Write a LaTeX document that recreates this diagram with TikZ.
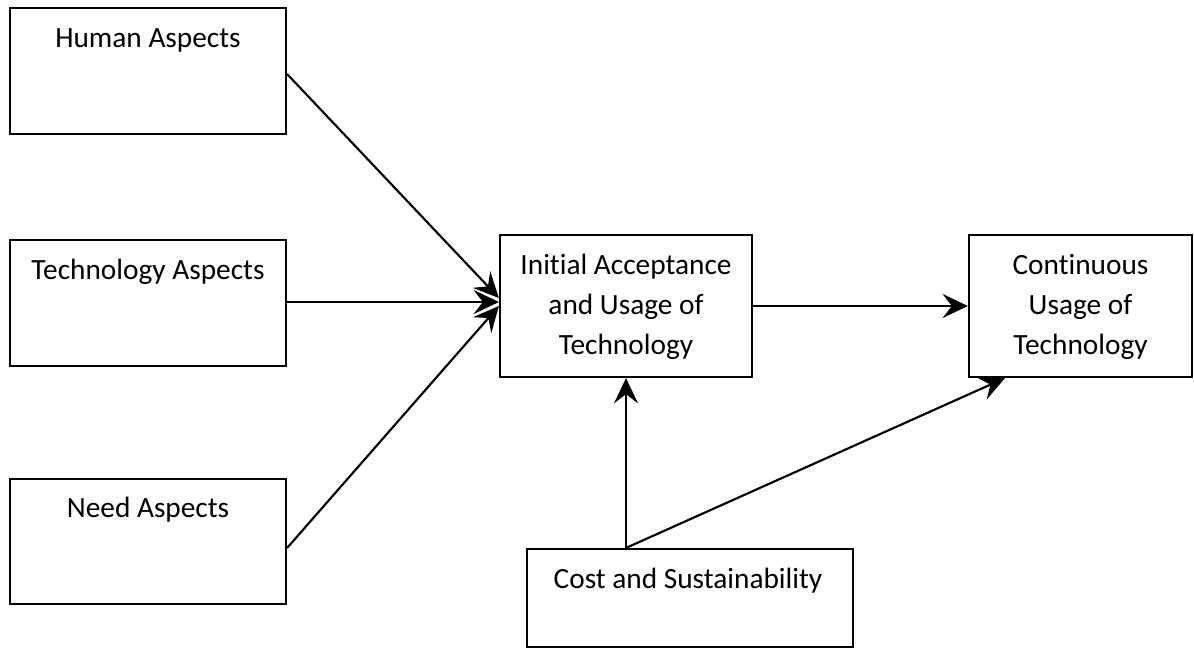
\documentclass[tikz,border=0pt]{standalone}
\usepackage{fontspec}
\setmainfont{Carlito}[Ligatures={NoCommon,NoRequired,NoContextual}, Contextuals=NoAlternate]
\usetikzlibrary{arrows.meta}
\begin{document}
% one unit = one pixel (0.75pt), y grows downward
\begin{tikzpicture}[x=0.75pt,y=-0.75pt,
  box/.style={draw=black, line width=1.6pt, inner sep=0pt, fill=white},
  lbl/.style={inner sep=0pt, align=center, font=\fontsize{22pt}{30pt}\selectfont},
  arr/.style={line width=1.6pt, -{Stealth[length=19pt,width=18pt,inset=7pt]}}]
\useasboundingbox (0,0) rectangle (1194,650);

% boxes
\node[box, minimum width=276*0.75pt, minimum height=126*0.75pt] (human) at (148,71) {};
\node[box, minimum width=276*0.75pt, minimum height=126*0.75pt] (tech)  at (148,303) {};
\node[box, minimum width=276*0.75pt, minimum height=125*0.75pt] (need)  at (148,541.5) {};
\node[box, minimum width=252*0.75pt, minimum height=142*0.75pt] (init)  at (626,306) {};
\node[box, minimum width=223*0.75pt, minimum height=142*0.75pt] (cont)  at (1080.5,306) {};
\node[box, minimum width=326*0.75pt, minimum height=98*0.75pt]  (cost)  at (690,598) {};

% labels
\node[lbl, anchor=base] (humanlbl) at (148,47)  {Human Aspects};
\node[lbl, anchor=base] (techlbl)  at (148,279) {Technology Aspects};
\node[lbl, anchor=base] (needlbl)  at (148,517) {Need Aspects};
\node[lbl, anchor=base] (costlbl)  at (688,588) {Cost and Sustainability};
\node[lbl] (initlbl) at (626,307) {Ini\kern0pt tial Acceptance\\and Usage of\\Technology};
\node[lbl] (contlbl) at (1080.5,307) {Continuous\\Usage of\\Technology};

% connectors
\draw[arr] (human.east |- 0,74)  -- (init.west |- 0,298);
\draw[arr] (tech.east |- 0,302)  -- (init.west |- 0,302);
\draw[arr] (need.east |- 0,548)  -- (init.west |- 0,306);
\draw[arr] (init.east) -- (cont.west);
\coordinate (costtop) at (cost.north -| init.south);
\draw[arr] (costtop) -- (init.south);
\draw[arr] (costtop) -- (cont.south -| 1005,0);
\end{tikzpicture}
\end{document}
